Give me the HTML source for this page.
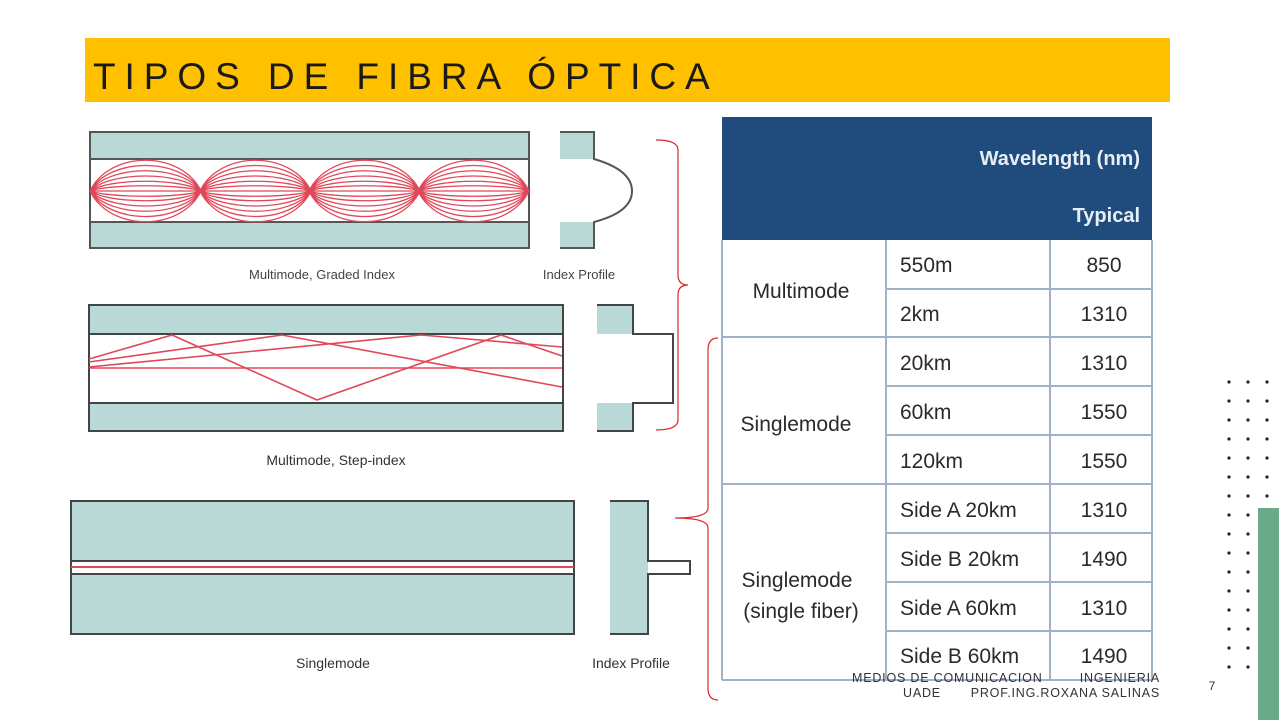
<!DOCTYPE html>
<html><head><meta charset="utf-8"><style>
html,body{margin:0;padding:0;background:#fff;}
svg{display:block}
</style></head><body>
<svg width="1279" height="720" xmlns="http://www.w3.org/2000/svg" font-family="Liberation Sans, sans-serif">
<rect x="85" y="38" width="1085" height="64" fill="#ffc000"/>
<text x="93" y="89" font-size="37" letter-spacing="8.3" fill="#1a1a1a" textLength="625" lengthAdjust="spacing">TIPOS DE FIBRA ÓPTICA</text>

<!-- Graded index -->
<g stroke="#555" stroke-width="2">
<rect x="90" y="132" width="439" height="27" fill="#b9d9d7"/>
<rect x="90" y="222" width="439" height="26" fill="#b9d9d7"/>
<rect x="90" y="159" width="439" height="63" fill="#fff"/>
<rect x="560" y="132" width="34" height="27" fill="#b9d9d7" stroke="none"/>
<rect x="560" y="222" width="34" height="26" fill="#b9d9d7" stroke="none"/>
<path d="M560 132 H594 V159 Q632 170 632 191 Q632 212 594 222 V248 H560" fill="none"/>
</g>
<g stroke="#e0485a" stroke-width="1.3" fill="none">
<path id="lobe" d="M90 191 C110 150 181 150 201 191 C181 232 110 232 90 191 M90 191 C110 157 181 157 201 191 C181 225 110 225 90 191 M90 191 C110 164 181 164 201 191 C181 218 110 218 90 191 M90 191 C110 171 181 171 201 191 C181 211 110 211 90 191 M90 191 C110 178 181 178 201 191 C181 204 110 204 90 191 M90 191 C110 184 181 184 201 191 C181 198 110 198 90 191 M90 191 H201"/>
<use href="#lobe" x="110"/><use href="#lobe" x="219"/><use href="#lobe" x="328"/>
</g>
<text x="322" y="279" font-size="13" fill="#444" text-anchor="middle">Multimode, Graded Index</text>
<text x="579" y="279" font-size="13" fill="#444" text-anchor="middle">Index Profile</text>

<!-- Step index -->
<g stroke="#444" stroke-width="2">
<rect x="89" y="305" width="474" height="29" fill="#b9d9d7"/>
<rect x="89" y="403" width="474" height="28" fill="#b9d9d7"/>
<rect x="89" y="334" width="474" height="69" fill="#fff"/>
<rect x="597" y="305" width="36" height="29" fill="#b9d9d7" stroke="none"/>
<rect x="597" y="403" width="36" height="28" fill="#b9d9d7" stroke="none"/>
<path d="M597 305 H633 V334 H673 V403 H633 V431 H597" fill="none"/>
</g>
<g stroke="#e0485a" stroke-width="1.6" fill="none">
<polyline points="89,359 172,335 317,400 501,335 562,356"/>
<polyline points="89,362 282,335 562,387"/>
<polyline points="89,367 421,335 562,347"/>
<line x1="89" y1="368" x2="562" y2="368"/>
</g>
<text x="336" y="465" font-size="14" fill="#333" text-anchor="middle">Multimode, Step-index</text>

<!-- Singlemode -->
<g stroke="#444" stroke-width="2">
<rect x="71" y="501" width="503" height="133" fill="#b9d9d7"/>
<rect x="71" y="561" width="503" height="13" fill="#fff"/>
<rect x="610" y="501" width="38" height="133" fill="#b9d9d7" stroke="none"/>
<path d="M610 501 H648 V561 H690 V574 H648 V634 H610" fill="none"/>
</g>
<line x1="71" y1="567" x2="574" y2="567" stroke="#e0485a" stroke-width="2"/>
<text x="333" y="668" font-size="14" fill="#333" text-anchor="middle">Singlemode</text>
<text x="631" y="668" font-size="14" fill="#333" text-anchor="middle">Index Profile</text>

<!-- braces -->
<g stroke="#d62828" stroke-width="1.2" fill="none">
<path d="M656 140 Q678 140 678 150 V275 Q678 285 688 285 Q678 285 678 295 V420 Q678 430 656 430"/>
<path d="M718 338 Q708 338 708 350 V508 Q708 518 675 518 Q708 518 708 528 V688 Q708 700 718 700"/>
</g>

<!-- table -->
<rect x="722" y="117" width="430" height="123" fill="#1f4b7d"/>
<text x="1140" y="165" font-size="20" fill="#e8eef5" text-anchor="end" font-weight="bold">Wavelength (nm)</text>
<text x="1140" y="222" font-size="20" fill="#e8eef5" text-anchor="end" font-weight="bold">Typical</text>
<g stroke="#9fb2c8" stroke-width="2" fill="none">
<line x1="722" y1="240" x2="722" y2="680"/>
<line x1="886" y1="240" x2="886" y2="680"/>
<line x1="1050" y1="240" x2="1050" y2="680"/>
<line x1="1152" y1="240" x2="1152" y2="680"/>
<line x1="886" y1="289" x2="1152" y2="289"/>
<line x1="722" y1="337" x2="1152" y2="337"/>
<line x1="886" y1="386" x2="1152" y2="386"/>
<line x1="886" y1="435" x2="1152" y2="435"/>
<line x1="722" y1="484" x2="1152" y2="484"/>
<line x1="886" y1="533" x2="1152" y2="533"/>
<line x1="886" y1="582" x2="1152" y2="582"/>
<line x1="886" y1="631" x2="1152" y2="631"/>
<line x1="722" y1="680" x2="1152" y2="680"/>
</g>
<g font-size="21" fill="#2a2a2a">
<text x="801" y="298" text-anchor="middle">Multimode</text>
<text x="796" y="431" text-anchor="middle">Singlemode</text>
<text x="797" y="587" text-anchor="middle">Singlemode</text>
<text x="801" y="618" text-anchor="middle">(single fiber)</text>
<g>
<text x="900" y="272">550m</text><text x="900" y="321">2km</text>
<text x="900" y="370">20km</text><text x="900" y="419">60km</text>
<text x="900" y="468">120km</text><text x="900" y="517">Side A 20km</text>
<text x="900" y="566">Side B 20km</text><text x="900" y="615">Side A 60km</text>
<text x="900" y="663">Side B 60km</text>
</g>
<g text-anchor="middle">
<text x="1104" y="272">850</text><text x="1104" y="321">1310</text>
<text x="1104" y="370">1310</text><text x="1104" y="419">1550</text>
<text x="1104" y="468">1550</text><text x="1104" y="517">1310</text>
<text x="1104" y="566">1490</text><text x="1104" y="615">1310</text>
<text x="1104" y="663">1490</text>
</g>
</g>

<!-- footer -->
<g font-size="12.5" fill="#333" letter-spacing="0.8">
<text x="852" y="682">MEDIOS DE COMUNICACION</text>
<text x="1160" y="682" text-anchor="end">INGENIERIA</text>
<text x="903" y="697">UADE</text>
<text x="1160" y="697" text-anchor="end">PROF.ING.ROXANA SALINAS</text>
</g>
<text x="1212" y="690" font-size="12" fill="#333" text-anchor="middle">7</text>

<!-- dots & green bar -->
<g fill="#222">
<circle cx="1229" cy="382" r="1.6"/><circle cx="1248" cy="382" r="1.6"/><circle cx="1267" cy="382" r="1.6"/>
<circle cx="1229" cy="401" r="1.6"/><circle cx="1248" cy="401" r="1.6"/><circle cx="1267" cy="401" r="1.6"/>
<circle cx="1229" cy="420" r="1.6"/><circle cx="1248" cy="420" r="1.6"/><circle cx="1267" cy="420" r="1.6"/>
<circle cx="1229" cy="439" r="1.6"/><circle cx="1248" cy="439" r="1.6"/><circle cx="1267" cy="439" r="1.6"/>
<circle cx="1229" cy="458" r="1.6"/><circle cx="1248" cy="458" r="1.6"/><circle cx="1267" cy="458" r="1.6"/>
<circle cx="1229" cy="477" r="1.6"/><circle cx="1248" cy="477" r="1.6"/><circle cx="1267" cy="477" r="1.6"/>
<circle cx="1229" cy="496" r="1.6"/><circle cx="1248" cy="496" r="1.6"/><circle cx="1267" cy="496" r="1.6"/>
<circle cx="1229" cy="515" r="1.6"/><circle cx="1248" cy="515" r="1.6"/>
<circle cx="1229" cy="534" r="1.6"/><circle cx="1248" cy="534" r="1.6"/>
<circle cx="1229" cy="553" r="1.6"/><circle cx="1248" cy="553" r="1.6"/>
<circle cx="1229" cy="572" r="1.6"/><circle cx="1248" cy="572" r="1.6"/>
<circle cx="1229" cy="591" r="1.6"/><circle cx="1248" cy="591" r="1.6"/>
<circle cx="1229" cy="610" r="1.6"/><circle cx="1248" cy="610" r="1.6"/>
<circle cx="1229" cy="629" r="1.6"/><circle cx="1248" cy="629" r="1.6"/>
<circle cx="1229" cy="648" r="1.6"/><circle cx="1248" cy="648" r="1.6"/>
<circle cx="1229" cy="667" r="1.6"/><circle cx="1248" cy="667" r="1.6"/>
</g>
<rect x="1258" y="508" width="21" height="212" fill="#6aa98a"/>
</svg>
</body></html>
